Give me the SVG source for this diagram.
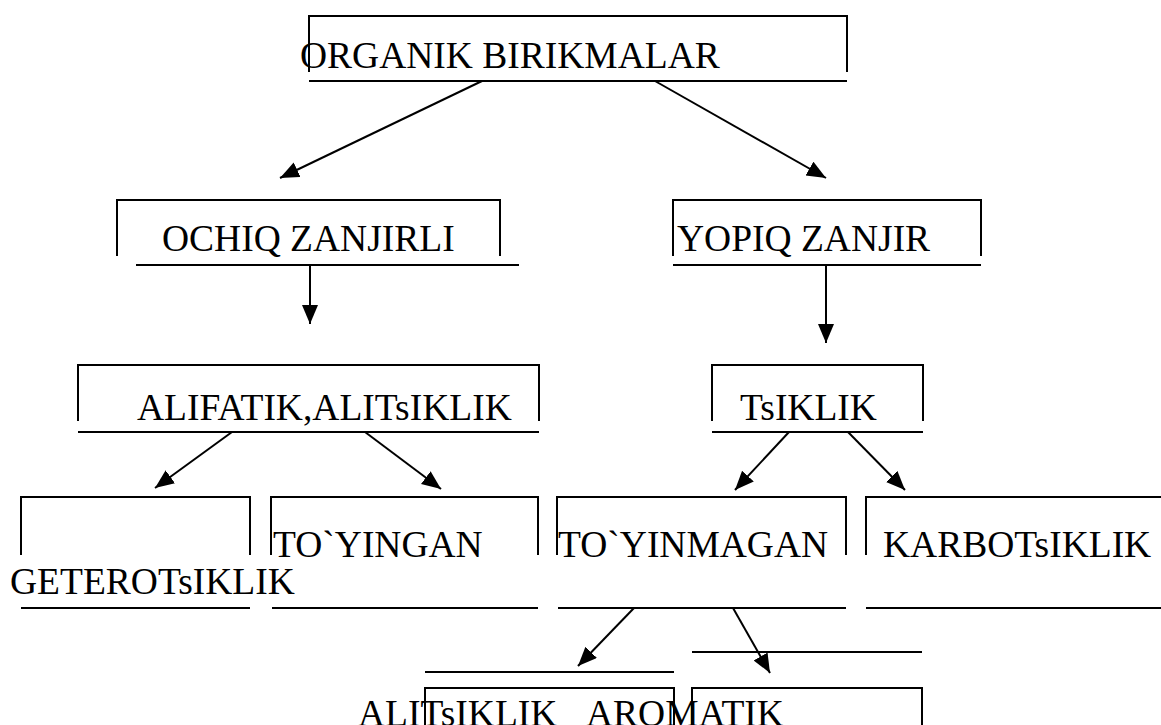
<svg xmlns="http://www.w3.org/2000/svg" width="1161" height="725" viewBox="0 0 1161 725">
<style>
.ln{stroke:#000;stroke-width:2;fill:none}
.ar{stroke:#000;stroke-width:2;fill:none;marker-end:url(#ah)}
.t{font-family:"Liberation Serif","Times New Roman",serif;font-size:37.5px;fill:#000}
</style>
<defs>
<marker id="ah" markerUnits="userSpaceOnUse" markerWidth="22" markerHeight="18" refX="19" refY="8" orient="auto">
<path d="M0,0 L19,8 L0,16 Z" fill="#000"/>
</marker>
</defs>
<rect width="1161" height="725" fill="#fff"/>
<g id="n-organik">
<path class="ln" d="M309,72 V16 H847 V72 M309,81 H847"/>
<text class="t" x="300" y="68">ORGANIK BIRIKMALAR</text>
</g>
<g id="n-ochiq">
<path class="ln" d="M117,256 V200 H500 V256 M136,265 H519"/>
<text class="t" x="162" y="251">OCHIQ ZANJIRLI</text>
</g>
<g id="n-yopiq">
<path class="ln" d="M673,256 V200 H981 V256 M673,265 H981"/>
<text class="t" x="677" y="251">YOPIQ ZANJIR</text>
</g>
<g id="n-alifatik">
<path class="ln" d="M78,421 V365 H539 V421 M78,432 H539"/>
<text class="t" x="137" y="420">ALIFATIK,ALITsIKLIK</text>
</g>
<g id="n-tsiklik">
<path class="ln" d="M712,421 V365 H923 V421 M712,432 H923"/>
<text class="t" x="740" y="420">TsIKLIK</text>
</g>
<g id="n-geterotsiklik">
<path class="ln" d="M21,555 V497 H250 V555 M21,608 H250"/>
<text class="t" x="10" y="594">GETEROTsIKLIK</text>
</g>
<g id="n-toyingan">
<path class="ln" d="M271,555 V497 H538 V555 M272,608 H538"/>
<text class="t" x="273" y="557">TO`YINGAN</text>
</g>
<g id="n-toyinmagan">
<path class="ln" d="M557,555 V497 H846 V555 M558,608 H846"/>
<text class="t" x="558" y="557">TO`YINMAGAN</text>
</g>
<g id="n-karbotsiklik">
<path class="ln" d="M866,555 V497 H1161 M866,608 H1161"/>
<text class="t" x="883" y="557">KARBOTsIKLIK</text>
</g>
<g id="n-alitsiklik">
<path class="ln" d="M425,672 H674 M425,725 V688 H674 V725"/>
<text class="t" x="358" y="726">ALITsIKLIK</text>
</g>
<g id="n-aromatik">
<path class="ln" d="M692,652 H922 M692,725 V688 H922 V725"/>
<text class="t" x="586" y="726">AROMATIK</text>
</g>
<g id="connectors">
<line class="ar" x1="482" y1="81" x2="280" y2="178"/>
<line class="ar" x1="655" y1="81" x2="826" y2="178"/>
<line class="ar" x1="310" y1="266" x2="310" y2="324"/>
<line class="ar" x1="826" y1="266" x2="826" y2="343"/>
<line class="ar" x1="232" y1="432" x2="155" y2="488"/>
<line class="ar" x1="365" y1="432" x2="441" y2="489"/>
<line class="ar" x1="789" y1="432" x2="735" y2="490"/>
<line class="ar" x1="848" y1="432" x2="905" y2="490"/>
<line class="ar" x1="634" y1="608" x2="578" y2="666"/>
<line class="ar" x1="733" y1="608" x2="770" y2="673"/>
</g>
</svg>
